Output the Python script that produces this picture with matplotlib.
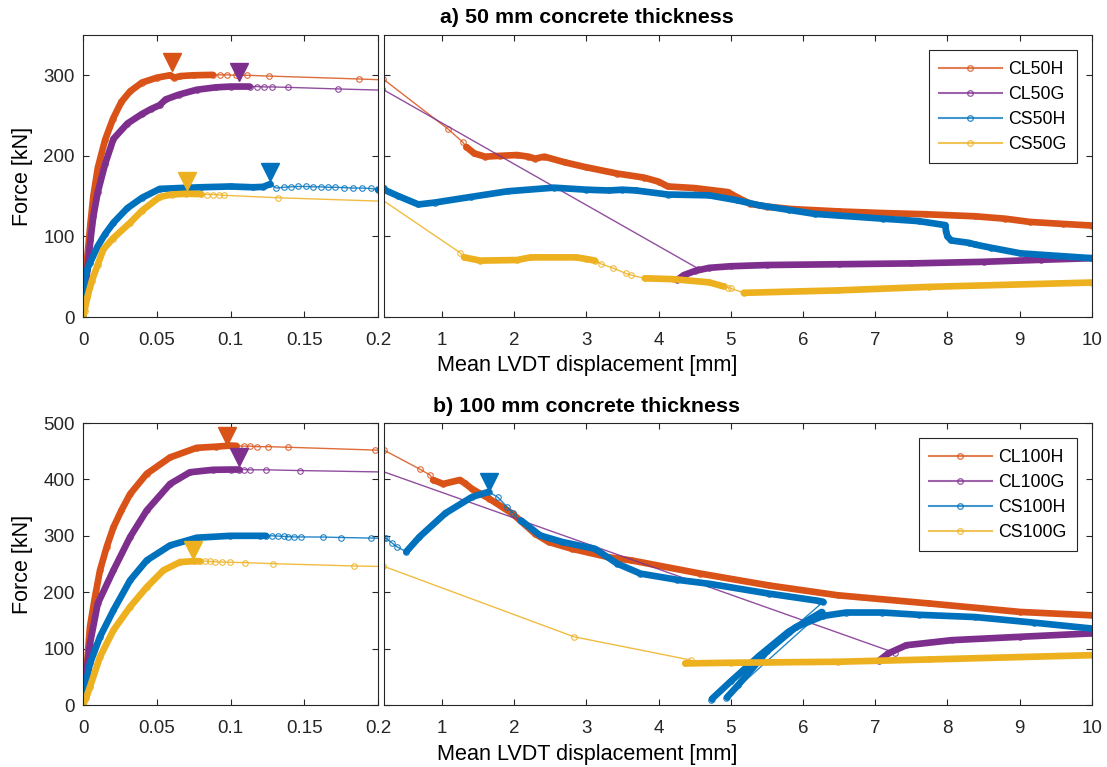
"""
    Force vs mean LVDT displacement of the push-out specimens, 50 and 100 mm concrete
"""

import numpy as np
import matplotlib.pyplot as plt
from matplotlib.lines import Line2D

plt.rcParams['font.family'] = ['Liberation Sans', 'DejaVu Sans']

# (mm, kN, 1 = densely recorded stretch / 0 = sparse reading)
# ---- a) 50 mm concrete thickness ----
cl50h_x = [0, 0.001, 0.0025, 0.005, 0.007, 0.01, 0.015, 0.0203, 0.026, 0.0319, 0.04, 0.05, 0.059, 0.062,
           0.066, 0.075, 0.088, 0.093, 0.0974, 0.104, 0.111, 0.126, 0.187,
           1.09, 1.29, 1.34, 1.45, 1.6, 1.8, 2.04, 2.2, 2.29, 2.42, 2.7, 2.99, 3.43, 3.8, 4.0, 4.13, 4.5,
           4.96, 5.08, 5.27, 5.5, 5.84, 6.5, 7.11, 7.7, 8.38, 8.8, 9.14, 9.6, 10.0]
cl50h_f = [0, 30, 67, 115, 150, 185, 220, 246, 267, 280, 291, 297, 300, 297,
           299, 300, 300.5, 300.5, 300.5, 300, 300, 299, 295.4,
           233, 217, 211, 203, 199, 200, 201, 199, 196.5, 199, 192, 186, 178, 173, 168, 162, 160,
           155, 149, 140.5, 137, 134, 131, 129, 127.5, 125, 122, 118, 115.5, 113.5]
cl50h_d = [1] * 17 + [0] * 8 + [1] * 28

cl50g_x = [0, 0.001, 0.003, 0.005, 0.007, 0.01, 0.015, 0.0206, 0.03, 0.04, 0.046, 0.052, 0.056, 0.065,
           0.077, 0.09, 0.1, 0.113, 0.118, 0.123, 0.128, 0.139, 0.173,
           4.55, 4.26, 4.35, 4.5, 4.7, 5.0, 5.5, 6.5, 7.5, 8.5, 9.3, 10.0]
cl50g_f = [0, 25, 60, 95, 125, 155, 190, 221, 240, 252, 258, 263, 270, 276,
           282, 285, 286, 286, 286, 285.5, 285.5, 285, 283,
           60, 46, 52, 57, 61, 63, 64.5, 65.5, 66.5, 68.5, 71, 73]
cl50g_d = [1] * 18 + [0] * 6 + [1] * 11

cs50h_x = [0, 0.0005, 0.001, 0.0025, 0.0047, 0.01, 0.015, 0.0206, 0.03, 0.04, 0.052, 0.065, 0.08, 0.1,
           0.115, 0.122, 0.127, 0.131, 0.136, 0.141, 0.146, 0.151, 0.156, 0.161, 0.166, 0.171, 0.177,
           0.183, 0.189, 0.195,
           0.2, 0.4, 0.676, 0.9, 1.4, 1.91, 2.55, 3.0, 3.31, 3.5, 3.69, 4.13, 4.7, 5.08, 5.4, 5.8, 6.16,
           7.11, 7.6, 7.97, 7.98, 8.0, 8.05, 8.3, 8.38, 8.6, 9.01, 9.5, 10.0]
cs50h_f = [0, 25, 45, 58, 67, 88, 103, 117, 135, 148, 159, 160, 161, 162,
           161, 161.5, 165, 160, 161, 161.5, 162, 162, 161.5, 161.5, 161, 161, 160.5,
           160, 160, 159.5,
           158, 150, 139.7, 142, 149, 156, 160.5, 158, 157, 158, 157, 152, 151, 145, 138.5, 133, 128,
           122, 119, 114, 106, 100, 95, 92, 90, 86, 79, 76, 73]
cs50h_d = [1] * 17 + [0] * 13 + [1] * 29

cs50g_x = [0, 0.001, 0.003, 0.006, 0.01, 0.0138, 0.02, 0.0319, 0.04, 0.052, 0.06, 0.07, 0.08,
           0.084, 0.088, 0.092, 0.0955, 0.132,
           1.25, 1.31, 1.53, 2.04, 2.23, 2.86, 3.0, 3.12, 3.21, 3.37, 3.55, 3.62,
           3.81, 4.2, 4.7, 4.9, 4.96, 5.0, 5.18, 6.48, 7.75, 10.0]
cs50g_f = [0, 8, 25, 45, 65, 84, 97, 117, 132, 149, 152, 153, 152.5,
           152, 152, 151.5, 151, 148,
           80, 74, 70, 70.7, 74, 74, 72, 70, 65.7, 60.7, 54, 52,
           48, 47, 43, 38, 36.6, 35.5, 30, 33, 37.4, 42.8]
cs50g_d = [1] * 13 + [0] * 6 + [1] * 7 + [0] * 4 + [1] * 4 + [0] * 2 + [1] * 4

# ---- b) 100 mm concrete thickness ----
cl100h_x = [0, 0.002, 0.0047, 0.008, 0.0115, 0.016, 0.0206, 0.026, 0.0319, 0.0432, 0.059, 0.077, 0.09,
            0.1, 0.104, 0.109, 0.113, 0.118, 0.1256, 0.139, 0.198,
            0.698, 0.837, 0.88, 1.02, 1.25, 1.32, 1.42, 1.53, 1.66, 1.98, 2.29, 2.48, 2.8, 3.31, 3.62,
            4.58, 5.53, 6.48, 7.75, 9.01, 10.0]
cl100h_f = [0, 50, 138.6, 190, 238.8, 280, 315, 345, 374, 410, 439, 456, 458,
            460, 459.5, 459, 459, 458, 458, 457, 452,
            418, 407.8, 399, 392, 399, 393, 383, 375, 365.6, 339, 303.7, 289, 277, 262, 256.5,
            233, 212, 194.6, 180, 165, 159]
cl100h_d = [1] * 15 + [0] * 8 + [1] * 19

cl100g_x = [0, 0.002, 0.0047, 0.01, 0.0206, 0.0319, 0.0432, 0.059, 0.0725, 0.088, 0.1, 0.106,
            0.109, 0.113, 0.124, 0.147,
            7.27, 7.05, 7.18, 7.43, 8.06, 9.01, 10.0]
cl100g_f = [0, 50, 109, 180, 238.8, 297.8, 345, 392, 412.7, 417, 417.5, 417.5,
            417.5, 417, 417, 415.7,
            92.6, 78.4, 91.4, 106, 115, 121, 127]
cl100g_d = [1] * 12 + [0] * 5 + [1] * 6

cs100h_x = [0, 0.002, 0.0047, 0.0115, 0.0206, 0.0319, 0.0432, 0.059, 0.077, 0.0997, 0.12, 0.124,
            0.128, 0.1325, 0.136, 0.139, 0.143, 0.148, 0.163, 0.175, 0.195,
            0.228, 0.307, 0.376,
            0.508, 0.69, 1.05, 1.42, 1.65,
            1.78, 1.9, 1.99, 2.08,
            2.1, 2.36, 2.67, 3.12, 3.43, 3.75, 4.26, 4.7, 5.53, 6.22, 6.28,
            4.72, 4.74, 5.0, 5.4, 5.8, 6.26,
            4.93, 4.95, 5.1, 5.5, 5.9, 6.28, 6.6, 7.1, 7.6, 8.38, 9.2, 10.0]
cs100h_f = [0, 40, 73.7, 121, 168, 221, 256.5, 283, 296.6, 300, 300, 300,
            300, 299.5, 299, 298.5, 298, 298, 297.8, 297, 296,
            295.6, 287.8, 280.7,
            271.8, 298, 340, 369, 378,
            368, 351.6, 340, 328,
            327, 300.7, 289, 277, 250.6, 233, 222, 215, 197.5, 184.6, 183,
            9, 11, 42, 88, 130, 165,
            12, 14, 35, 95, 138, 158, 164, 164, 160, 156, 146, 135.6]
cs100h_d = [1] * 12 + [0] * 12 + [1] * 5 + [0] * 4 + [1] * 11 + [0] + [1] * 5 + [0] + [1] * 11

cs100g_x = [0, 0.002, 0.0047, 0.0115, 0.0206, 0.0319, 0.0432, 0.0545, 0.0658, 0.075, 0.079,
            0.083, 0.086, 0.0895, 0.094, 0.0997, 0.11, 0.129, 0.184,
            2.83, 4.45, 4.37, 5.0, 5.5, 6.48, 7.75, 10.0]
cs100g_f = [0, 12, 32, 85.5, 132.7, 174, 209, 238.8, 253.5, 255, 255,
            255, 254.5, 254, 253.5, 253, 252.5, 250.6, 246.5,
            121, 79.6, 73.7, 75, 75.5, 76.7, 80.8, 88.4]
cs100g_d = [1] * 11 + [0] * 10 + [1] * 6

# peak markers (mm, kN)
peaks50_x = [0.0601, 0.106, 0.1268, 0.0703]
peaks50_f = [317, 304.6, 179.6, 169]
peaks100_x = [0.0974, 0.106, 1.66, 0.0748]
peaks100_f = [477.6, 439, 396, 274]

labels50 = ['CL50H', 'CL50G', 'CS50H', 'CS50G']
labels100 = ['CL100H', 'CL100G', 'CS100H', 'CS100G']
colors = ['#D95319', '#7E2F8E', '#0072BD', '#EDB120']


def draw(ax, x, f, d, color):
    x = np.asarray(x, float)
    f = np.asarray(f, float)
    d = np.asarray(d, bool)
    ax.plot(x, f, '-', color=color, lw=1.0, marker='o', ms=4, mfc='none', mew=0.8, alpha=0.85)
    # band of overlapping markers where the logger recorded densely
    i = 0
    while i < len(d):
        if d[i]:
            j = i
            while j + 1 < len(d) and d[j + 1]:
                j += 1
            if j > i:
                ax.plot(x[i:j + 1], f[i:j + 1], '-', color=color, lw=4.8,
                        solid_capstyle='round', solid_joinstyle='round')
            i = j + 1
        else:
            i += 1


def style(ax):
    ax.tick_params(direction='in', top=True, right=True, length=4, width=0.8,
                   labelsize=13.5, colors='#262626', pad=6)
    ax.tick_params(axis='x', pad=10.5)
    for s in ax.spines.values():
        s.set_color('#262626')
        s.set_linewidth(0.8)


fig = plt.figure(figsize=(11.07, 7.67), dpi=100)

rows = [
    (0.5867, 350, [0, 100, 200, 300], labels50,
     [(cl50h_x, cl50h_f, cl50h_d), (cl50g_x, cl50g_f, cl50g_d),
      (cs50h_x, cs50h_f, cs50h_d), (cs50g_x, cs50g_f, cs50g_d)],
     peaks50_x, peaks50_f, 'a) 50 mm concrete thickness', 0.977, 0.523),
    (0.0808, 500, [0, 100, 200, 300, 400, 500], labels100,
     [(cl100h_x, cl100h_f, cl100h_d), (cl100g_x, cl100g_f, cl100g_d),
      (cs100h_x, cs100h_f, cs100h_d), (cs100g_x, cs100g_f, cs100g_d)],
     peaks100_x, peaks100_f, 'b) 100 mm concrete thickness', 0.470, 0.016),
]

for bottom, ymax, yticks, labels, series, px, pf, title, ty, xly in rows:
    axl = fig.add_axes([0.075, bottom, 0.2665, 0.3677])
    axr = fig.add_axes([0.3469, bottom, 0.6395, 0.3677])
    for (x, f, d), c in zip(series, colors):
        draw(axl, x, f, d, c)
        draw(axr, x, f, d, c)
    for xp, fp, c in zip(px, pf, colors):
        ax = axl if xp <= 0.2 else axr
        ax.plot(xp, fp, 'v', color=c, ms=13.5, mec=c)

    axl.set_xlim(0, 0.2)
    axl.set_xticks([0, 0.05, 0.1, 0.15, 0.2])
    axl.set_xticklabels(['0', '0.05', '0.1', '0.15', '0.2'])
    axl.set_ylim(0, ymax)
    axl.set_yticks(yticks)
    axl.set_ylabel('Force [kN]', fontsize=15.5)
    axl.yaxis.set_label_coords(-0.17, 0.5)

    axr.set_xlim(0.2, 10)
    axr.set_xticks(range(1, 11))
    axr.set_ylim(0, ymax)
    axr.set_yticks(yticks)
    axr.set_yticklabels([])
    style(axl)
    style(axr)

    handles = [Line2D([], [], color=c, lw=1.5, marker='o', ms=4, mfc='none', alpha=0.75)
               for c in colors]
    leg = axr.legend(handles, labels, loc='upper right', fontsize=12.8, handlelength=3.5,
                     handletextpad=0.35, borderaxespad=0.85, borderpad=0.6,
                     fancybox=False, edgecolor='#262626', framealpha=1, labelspacing=0.45)
    leg.get_frame().set_linewidth(0.8)

    fig.text(0.530, ty, title, ha='center', va='center', fontsize=15.4, fontweight='bold')
    fig.text(0.530, xly, 'Mean LVDT displacement [mm]', ha='center', va='center', fontsize=15.6)

plt.savefig('out.png', dpi=100)
